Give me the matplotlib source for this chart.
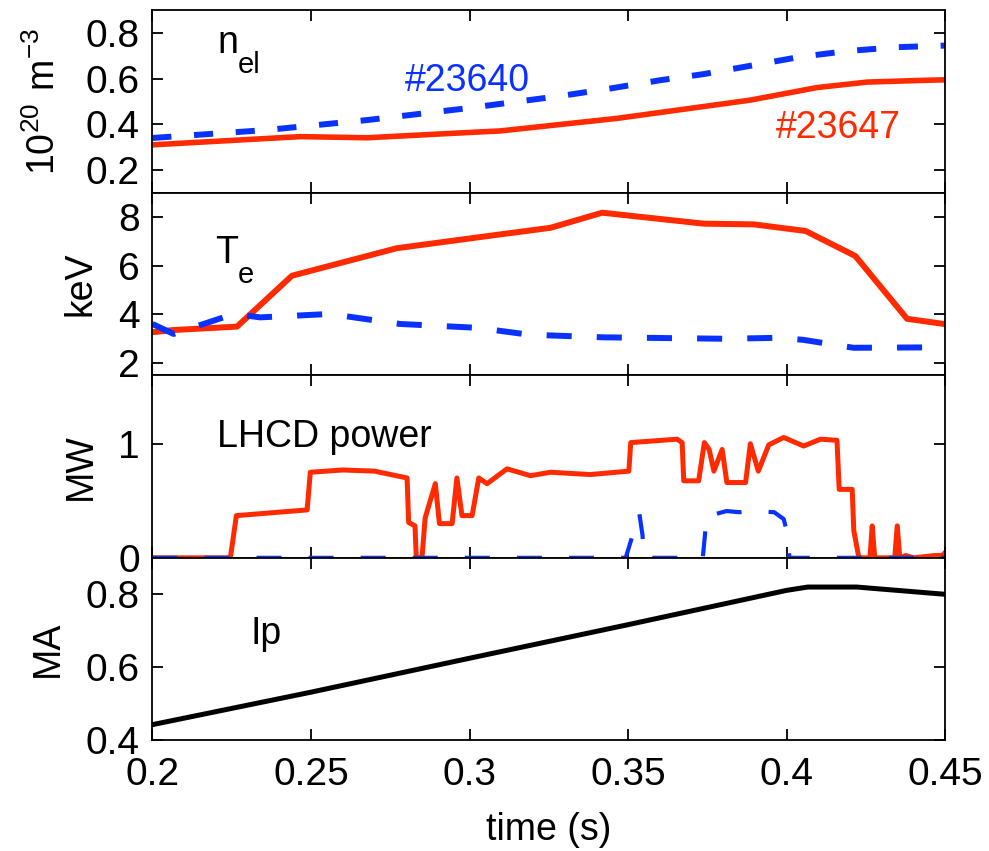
import matplotlib
matplotlib.use('Agg')
import matplotlib.pyplot as plt

# 数据
t_ne_23647 = [0.2, 0.2467, 0.2677, 0.294, 0.3097, 0.3465, 0.3885, 0.4095, 0.4253, 0.444, 0.45]
ne_23647 = [0.31, 0.346, 0.341, 0.36, 0.371, 0.426, 0.506, 0.561, 0.585, 0.593, 0.595]
t_ne_23640 = [0.2, 0.236, 0.268, 0.299, 0.3286, 0.3444, 0.360, 0.3738, 0.3895, 0.404, 0.419, 0.4348, 0.45]
ne_23640 = [0.34, 0.375, 0.419, 0.47, 0.524, 0.557, 0.593, 0.62, 0.659, 0.695, 0.721, 0.738, 0.745]

t_te_23647 = [0.2, 0.2067, 0.2267, 0.244, 0.277, 0.3097, 0.3255, 0.3418, 0.3738, 0.3896, 0.4059, 0.4216, 0.4379, 0.45]
te_23647 = [3.27, 3.36, 3.5, 5.59, 6.72, 7.29, 7.56, 8.18, 7.73, 7.7, 7.43, 6.4, 3.82, 3.6]
t_te_23640 = [0.2, 0.2067, 0.2257, 0.234, 0.256, 0.278, 0.3024, 0.3186, 0.342, 0.381, 0.397, 0.405, 0.421, 0.45]
te_23640 = [3.61, 3.2, 4.02, 3.88, 4.02, 3.61, 3.45, 3.17, 3.06, 3.0, 3.04, 2.96, 2.63, 2.65]

t_lh_23647 = [0.2, 0.2246, 0.2265, 0.2488, 0.2498, 0.26, 0.27, 0.2803, 0.2808, 0.2828, 0.2832,
              0.2850, 0.2860, 0.2892, 0.2905, 0.2945, 0.2960, 0.2976, 0.3008, 0.3029, 0.3055,
              0.3118, 0.3192, 0.3255, 0.338, 0.3502, 0.3508, 0.3654, 0.367, 0.3675, 0.3722,
              0.374, 0.3755, 0.377, 0.3796, 0.3811, 0.387, 0.3885, 0.391, 0.3943, 0.399,
              0.4053, 0.4106, 0.4158, 0.4165, 0.4206, 0.4211, 0.4227, 0.4262, 0.4269, 0.4277,
              0.4340, 0.4348, 0.4356, 0.4375, 0.44, 0.4465, 0.449, 0.45]
lh_23647 = [0, 0, 0.37, 0.42, 0.75, 0.77, 0.76, 0.70, 0.31, 0.28, 0,
            0, 0.35, 0.65, 0.30, 0.30, 0.70, 0.37, 0.37, 0.70, 0.65,
            0.78, 0.72, 0.75, 0.73, 0.76, 1.01, 1.04, 1.01, 0.675, 0.675,
            1.01, 0.95, 0.76, 0.95, 0.66, 0.66, 1.0, 0.76, 0.99, 1.055,
            0.98, 1.04, 1.03, 0.60, 0.60, 0.24, 0, 0, 0.28, 0,
            0, 0.28, 0, 0.02, 0, 0.02, 0.02, 0.05]
t_lh_23640 = [0.2, 0.3492, 0.3535, 0.3545, 0.355, 0.3735, 0.3748, 0.377, 0.381, 0.385,
              0.389, 0.396, 0.399, 0.4003, 0.4008, 0.45]
lh_23640 = [0, 0, 0.39, 0.2, 0, 0, 0.38, 0.38, 0.41, 0.40,
            0.41, 0.40, 0.34, 0.2, 0, 0]

t_ip = [0.2, 0.25, 0.3, 0.35, 0.4, 0.4066, 0.422, 0.436, 0.45]
ip = [0.443, 0.532, 0.625, 0.717, 0.811, 0.82, 0.82, 0.81, 0.80]

x_ticks = [0.2, 0.25, 0.3, 0.35, 0.4, 0.45]
x_ticklabels = ['0.2', '0.25', '0.3', '0.35', '0.4', '0.45']

RED = '#ff2a00'
BLUE = '#0a32ff'
FONTSIZE = 27

plt.rcParams['font.family'] = ['Liberation Sans', 'DejaVu Sans']
plt.rcParams['mathtext.fontset'] = 'custom'
plt.rcParams['mathtext.rm'] = 'Liberation Sans'

fig, axes = plt.subplots(4, 1, figsize=(9.89, 8.51), dpi=100, sharex=True)
fig.subplots_adjust(left=0.154, right=0.956, top=0.988, bottom=0.13, hspace=0)
ax1, ax2, ax3, ax4 = axes

# n_el
ax1.plot(t_ne_23647, ne_23647, color=RED, lw=4.0, solid_capstyle='butt')
ax1.plot(t_ne_23640, ne_23640, color=BLUE, lw=4.3, ls=(0, (3.2, 3.8)))
ax1.set_ylim(0.1, 0.9)
ax1.set_yticks([0.2, 0.4, 0.6, 0.8])
ax1.set_yticklabels(['0.2', '0.4', '0.6', '0.8'])
ax1.set_ylabel('$\\mathregular{10^{20}\\ m^{-3}}$', fontsize=FONTSIZE, labelpad=16)
ax1.text(0.082, 0.764, 'n', transform=ax1.transAxes, fontsize=FONTSIZE)
ax1.text(0.108, 0.654, 'el', transform=ax1.transAxes, fontsize=21)
ax1.text(0.319, 0.555, '#23640', transform=ax1.transAxes, fontsize=FONTSIZE, color=BLUE)
ax1.text(0.786, 0.302, '#23647', transform=ax1.transAxes, fontsize=FONTSIZE, color=RED)

# T_e
ax2.plot(t_te_23647, te_23647, color=RED, lw=4.3)
ax2.plot(t_te_23640, te_23640, color=BLUE, lw=4.3, ls=(0, (4.2, 4.2)))
ax2.set_ylim(1.5, 9)
ax2.set_yticks([2, 4, 6, 8])
ax2.set_ylabel('keV', fontsize=FONTSIZE, labelpad=14)
ax2.text(0.079, 0.615, 'T', transform=ax2.transAxes, fontsize=FONTSIZE)
ax2.text(0.108, 0.505, 'e', transform=ax2.transAxes, fontsize=21)

# LHCD
ax3.plot(t_lh_23647, lh_23647, color=RED, lw=3.6)
ax3.plot(t_lh_23640, lh_23640, color=BLUE, lw=3.0, ls=(0, (6, 6.5)))
ax3.set_ylim(0, 1.6)
ax3.set_yticks([0, 1])
ax3.set_ylabel('MW', fontsize=FONTSIZE, labelpad=14)
ax3.text(0.082, 0.607, 'LHCD power', transform=ax3.transAxes, fontsize=FONTSIZE)

# Ip
ax4.plot(t_ip, ip, color='black', lw=3.6)
ax4.set_ylim(0.4, 0.9)
ax4.set_yticks([0.4, 0.6, 0.8])
ax4.set_yticklabels(['0.4', '0.6', '0.8'])
ax4.set_ylabel('MA', fontsize=FONTSIZE, labelpad=14)
ax4.text(0.124, 0.53, 'Ip', transform=ax4.transAxes, fontsize=FONTSIZE)

ax4.set_xlim(0.2, 0.45)
ax4.set_xticks(x_ticks)
ax4.set_xticklabels(x_ticklabels)
ax4.set_xlabel('time (s)', fontsize=FONTSIZE, labelpad=14)

for ax in axes:
    ax.tick_params(direction='in', top=True, right=True, length=8, width=1.3,
                   labelsize=28)
    ax.tick_params(axis='y', pad=9)
    ax.tick_params(axis='x', pad=12)
    for s in ax.spines.values():
        s.set_linewidth(1.3)

plt.savefig('out.png', dpi=100)
